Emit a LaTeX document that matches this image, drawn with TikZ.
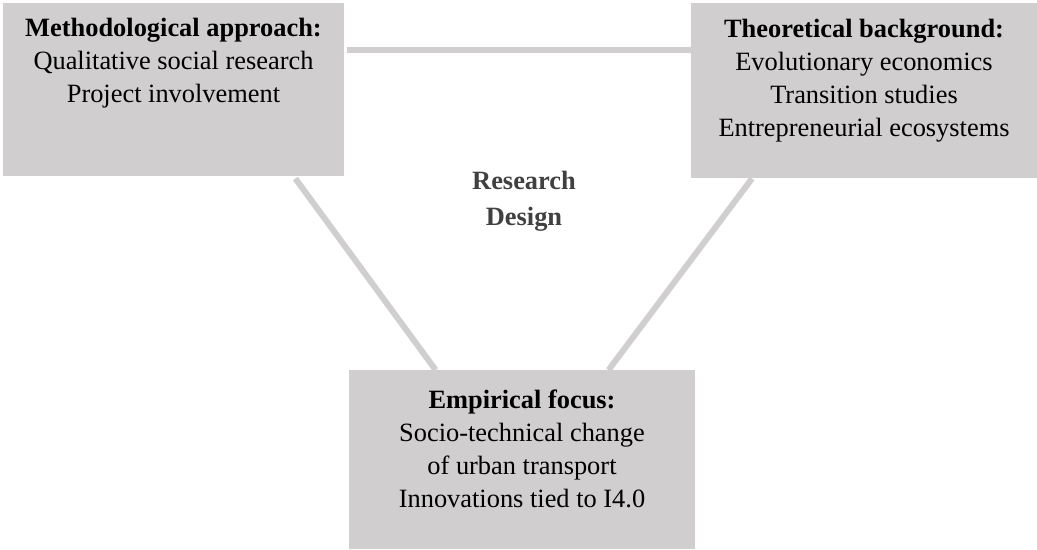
\documentclass[tikz,border=0pt]{standalone}
\usepackage{fontspec}
\setmainfont{Liberation Serif}
\usetikzlibrary{calc}
\definecolor{boxgray}{HTML}{D0CECE}
\definecolor{linkgray}{HTML}{D0CECE}
\definecolor{labelgray}{HTML}{404040}
\begin{document}
\begin{tikzpicture}[x=0.75pt,y=-0.75pt,
  box/.style={fill=boxgray,draw=none,inner sep=0pt,anchor=north west},
  txt/.style={inner sep=0pt,anchor=base,align=center,text=black,
    font=\fontsize{19.8}{24.75}\selectfont},
  link/.style={draw=linkgray,line width=4.5pt,line cap=butt}]
\useasboundingbox (0,0) rectangle (1037,549);
% boxes
\node[box,minimum width=255.75pt,minimum height=129.75pt] (L) at (3,3) {};
\node[box,minimum width=259.5pt,minimum height=131.25pt] (R) at (691,3) {};
\node[box,minimum width=259.5pt,minimum height=134.25pt] (B) at (349,370) {};
% connectors
\coordinate (h1) at ($(L.north east)+(2,47)$);
\coordinate (h2) at ($(R.north west)+(0,47)$);
\draw[link] (h1) -- (h2);
\draw[link] ($(L.south west)!0.856!(L.south east)+(0,2)$) -- ($(B.north west)!0.25!(B.north east)$);
\draw[link] ($(R.south west)!0.176!(R.south east)$) -- ($(B.north west)!0.749!(B.north east)$);
% texts (base anchor = baseline of the last line)
\node[txt] (Lt) at (173.5,103) {\textbf{Methodological approach:}\\Qualitative social research\\Project involvement};
\node[txt] (Rt) at (864,137) {\textbf{Theoretical background:}\\Evolutionary economics\\Transition studies\\Entrepreneurial ecosystems};
\node[txt] (Bt) at (522,507) {\textbf{Empirical focus:}\\Socio-technical change\\of urban transport\\Innovations tied to I4.0};
\node[txt,text=labelgray,font=\fontsize{19.8}{27}\selectfont\bfseries] (RD) at (524,225) {Research\\Design};
\end{tikzpicture}
\end{document}
